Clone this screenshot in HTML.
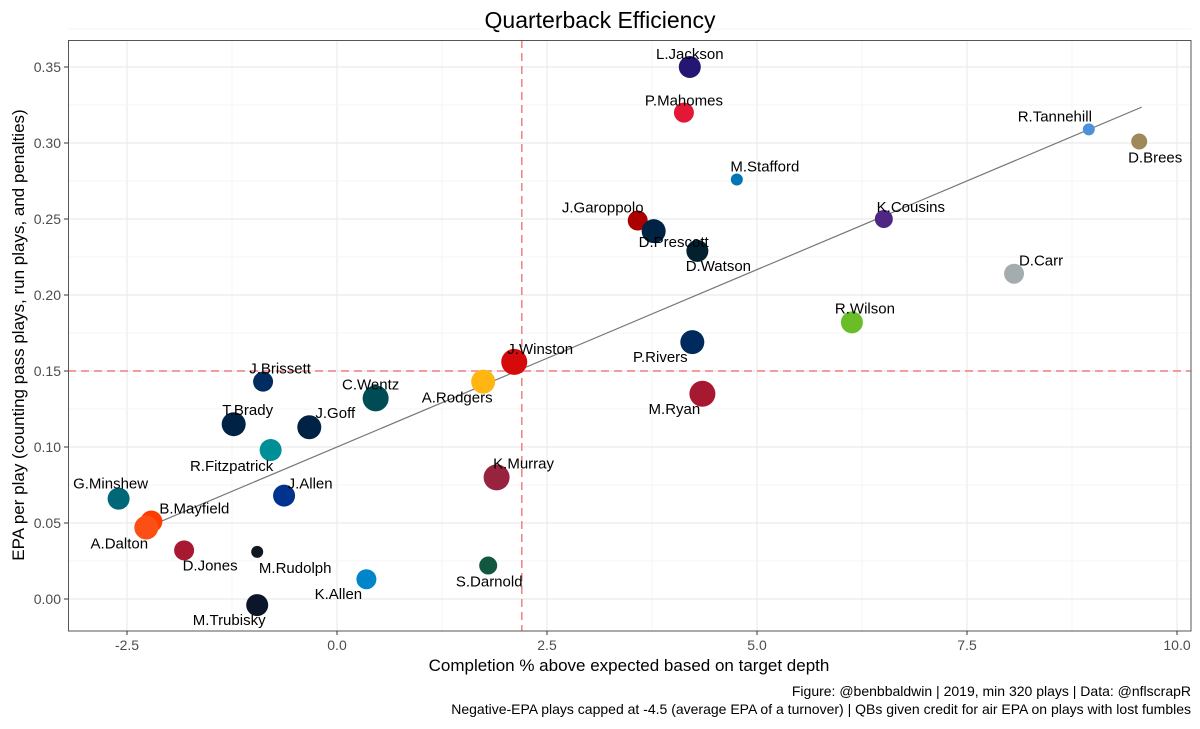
<!DOCTYPE html>
<html><head><meta charset="utf-8"><style>
body{margin:0;background:#fff;font-family:"Liberation Sans",sans-serif}
svg text{font-family:"Liberation Sans",sans-serif}
</style></head><body>
<svg id="chart" width="1200" height="724">
<text x="600" y="28" text-anchor="middle" font-size="23">Quarterback Efficiency</text>
<g id="grid"></g>
<g id="marks"></g>
<rect x="68.5" y="40.5" width="1122.5" height="590.5" fill="none" stroke="#555" stroke-width="1"/>
<g id="axes"></g>
<text x="629" y="671" text-anchor="middle" font-size="17">Completion % above expected based on target depth</text>
<text transform="translate(24,335) rotate(-90)" text-anchor="middle" font-size="17">EPA per play (counting pass plays, run plays, and penalties)</text>
<text x="1191" y="696" text-anchor="end" font-size="14">Figure: @benbbaldwin | 2019, min 320 plays | Data: @nflscrapR</text>
<text x="1191" y="714" text-anchor="end" font-size="14">Negative-EPA plays capped at -4.5 (average EPA of a turnover) | QBs given credit for air EPA on plays with lost fumbles</text>
</svg>
<script>
const names=["L.Jackson","P.Mahomes","M.Stafford","R.Tannehill","D.Brees","K.Cousins","J.Garoppolo","D.Prescott","D.Watson","D.Carr","R.Wilson","P.Rivers","J.Winston","A.Rodgers","M.Ryan","J.Brissett","C.Wentz","T.Brady","J.Goff","R.Fitzpatrick","K.Murray","J.Allen","G.Minshew","B.Mayfield","A.Dalton","D.Jones","M.Rudolph","S.Darnold","K.Allen","M.Trubisky"];
const cpoe=[4.20,4.13,4.76,8.95,9.55,6.51,3.58,3.77,4.29,8.06,6.13,4.23,2.11,1.74,4.35,-0.88,0.46,-1.23,-0.33,-0.79,1.90,-0.63,-2.60,-2.21,-2.27,-1.82,-0.95,1.80,0.35,-0.95];
const epa=[0.350,0.320,0.276,0.309,0.301,0.250,0.249,0.242,0.229,0.214,0.182,0.169,0.156,0.143,0.135,0.143,0.132,0.115,0.113,0.098,0.080,0.068,0.066,0.051,0.047,0.032,0.031,0.022,0.013,-0.004];
const plays=[11,10,6,6,8,9,10,12,11,10,11,12,13,12,13,10,13,12,12,11,13,11,11,11,12,10,6,9,10,11];
const xTicks=[-2.5,0,2.5,5,7.5,10];
const xTickLabels=["-2.5","0.0","2.5","5.0","7.5","10.0"];
const yTicks=[0,0.05,0.10,0.15,0.20,0.25,0.30,0.35];
const yTickLabels=["0.00","0.05","0.10","0.15","0.20","0.25","0.30","0.35"];
const refX=2.2, refY=0.15;
const fitIntercept=0.100, fitSlope=0.02334, fitRange=[-2.27,9.58];

const colors=["#241773","#E31837","#0076B6","#4B92DB","#9F8958","#4F2683","#AA0000","#002244","#03202F","#A5ACAF","#69BE28","#002A5E","#D50A0A","#FFB612","#A71930","#002C5F","#004C54","#002244","#002244","#008E97","#97233F","#00338D","#006778","#FF3C00","#FB4F14","#A71930","#101820","#125740","#0085CA","#0B162A"];
const ldx=[0,0,28,-34,16,27,-35,20,21,27,13,-32,26,-26,-28,17,-5,14,26,-39,27,26,-8,43,-27,26,38,1,-28,-28];
const ldy=[-13,-12,-13,-13,16,-12,-13,11,15,-13,-14,15,-13,16,15,-13,-14,-14,-14,16,-14,-12,-15,-13,16,15,16,16,15,15];

const X=v=>337+v*84, Y=v=>599-v*1520;
const NS="http://www.w3.org/2000/svg";
function mk(t,a,parent){const e=document.createElementNS(NS,t);for(const k in a)e.setAttribute(k,a[k]);parent.appendChild(e);return e;}
const grid=document.getElementById('grid'),marks=document.getElementById('marks'),axes=document.getElementById('axes');
for(let i=0;i<xTicks.length;i++){
  const g=mk('line',{x1:X(xTicks[i]),x2:X(xTicks[i]),y1:40,y2:631,stroke:'#ebebeb','stroke-width':1.2},grid);
  
  
  if(i<xTicks.length-1){const m=mk('line',{x1:X((xTicks[i]+xTicks[i+1])/2),x2:X((xTicks[i]+xTicks[i+1])/2),y1:40,y2:631,stroke:'#f3f3f3','stroke-width':0.8},grid);
  
  }
  mk('line',{x1:X(xTicks[i]),x2:X(xTicks[i]),y1:631,y2:635,stroke:'#333'},axes);
  const t=mk('text',{x:X(xTicks[i]),y:650,'text-anchor':'middle','font-size':14,fill:'#4d4d4d'},axes);t.textContent=xTickLabels[i];
  
  
}
for(let i=0;i<yTicks.length;i++){
  const g=mk('line',{x1:68,x2:1191,y1:Y(yTicks[i]),y2:Y(yTicks[i]),stroke:'#ebebeb','stroke-width':1.2},grid);
  
  
  const m=mk('line',{x1:68,x2:1191,y1:Y(yTicks[i]+0.025),y2:Y(yTicks[i]+0.025),stroke:'#f3f3f3','stroke-width':0.8},grid);
  
  
  mk('line',{x1:64,x2:68,y1:Y(yTicks[i]),y2:Y(yTicks[i]),stroke:'#333'},axes);
  const t=mk('text',{x:61,y:Y(yTicks[i])+5,'text-anchor':'end','font-size':14,fill:'#4d4d4d'},axes);t.textContent=yTickLabels[i];
  
  
}
const rh=mk('line',{x1:68,x2:1191,y1:Y(refY),y2:Y(refY),stroke:'#f08080','stroke-width':1.5,'stroke-dasharray':'8,5'},marks);


const rv=mk('line',{x1:X(refX),x2:X(refX),y1:40,y2:631,stroke:'#f08080','stroke-width':1.5,'stroke-dasharray':'8,5'},marks);


const fl=mk('line',{x1:X(fitRange[0]),y1:Y(fitIntercept+fitSlope*fitRange[0]),x2:X(fitRange[1]),y2:Y(fitIntercept+fitSlope*fitRange[1]),stroke:'#777','stroke-width':1.2},marks);


for(let i=0;i<names.length;i++){
  const c=mk('circle',{cx:X(cpoe[i]),cy:Y(epa[i]),r:plays[i],fill:colors[i]},marks);
  
  
}
for(let i=0;i<names.length;i++){
  const t=mk('text',{x:X(cpoe[i])+ldx[i],y:Y(epa[i])+ldy[i]+5,'text-anchor':'middle','font-size':15},marks);t.textContent=names[i];
  
  
}
</script>
</body></html>
